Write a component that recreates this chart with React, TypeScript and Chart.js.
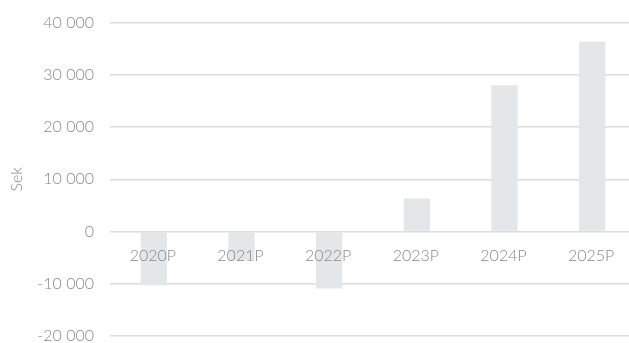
import React, { useEffect, useRef } from "react";
import { Chart, registerables } from "chart.js";

Chart.register(...registerables);

const categories = ["2020P", "2021P", "2022P", "2023P", "2024P", "2025P"];
const values = [-10300, -5500, -10900, 6300, 28000, 36300];
const yTicks = [-20000, -10000, 0, 10000, 20000, 30000, 40000];
const yTitle = "Sek";

function fmt(v: number): string {
  const s = Math.abs(v).toString().replace(/\B(?=(\d{3})+(?!\d))/g, " ");
  return (v < 0 ? "-" : "") + s;
}

const textColor = "#888888";
const fontFamily = "Lato";

const xLabelsOnTop = {
  id: "xLabelsOnTop",
  afterDatasetsDraw(chart: any) {
    const ctx = chart.ctx;
    const xs = chart.scales.x;
    const ys = chart.scales.y;
    const y0 = ys.getPixelForValue(0);
    ctx.save();
    ctx.font = `300 16px ${fontFamily}`;
    ctx.fillStyle = textColor;
    ctx.textAlign = "center";
    ctx.textBaseline = "middle";
    categories.forEach((c, i) => {
      ctx.fillText(c, xs.getPixelForValue(i) - 1, y0 + 24.5);
    });
    ctx.restore();
  },
};

export default function App() {
  const ref = useRef<HTMLCanvasElement | null>(null);
  useEffect(() => {
    if (!ref.current) return;
    const chart = new Chart(ref.current, {
      type: "bar",
      data: {
        labels: categories,
        datasets: [
          {
            data: values,
            backgroundColor: "#e5e6e7",
            barPercentage: 0.6,
            categoryPercentage: 0.5,
          },
        ],
      },
      plugins: [xLabelsOnTop],
      options: {
        animation: false,
        responsive: false,
        maintainAspectRatio: false,
        layout: { padding: { top: 22.5, bottom: 7, left: 0, right: 0 } },
        plugins: { legend: { display: false }, tooltip: { enabled: false } },
        scales: {
          x: {
            display: false,
          },
          y: {
            min: -20000,
            max: 40000,
            afterBuildTicks: (axis: any) => {
              axis.ticks = yTicks.map((v) => ({ value: v }));
            },
            afterFit: (axis: any) => {
              axis.width = 110;
              axis.paddingTop = 0;
              axis.paddingBottom = 0;
            },
            grid: { color: "#dcdcdc", lineWidth: 1.5, drawTicks: false },
            border: { display: false },
            ticks: {
              color: textColor,
              font: { family: fontFamily, size: 16, weight: 300 as any },
              padding: 16,
              callback: (v: any) => fmt(Number(v)),
            },
            title: {
              display: true,
              text: yTitle,
              color: textColor,
              font: { family: fontFamily, size: 16, weight: 300 as any },
              padding: { top: 7, bottom: 9 },
            },
          },
        },
      },
    });
    return () => chart.destroy();
  }, []);
  return (
    <div style={{ position: "fixed", left: 0, top: 0, width: 629, height: 343, overflow: "hidden", background: "#fff" }}>
      <canvas ref={ref} width={636} height={343} style={{ display: "block" }} />
    </div>
  );
}
